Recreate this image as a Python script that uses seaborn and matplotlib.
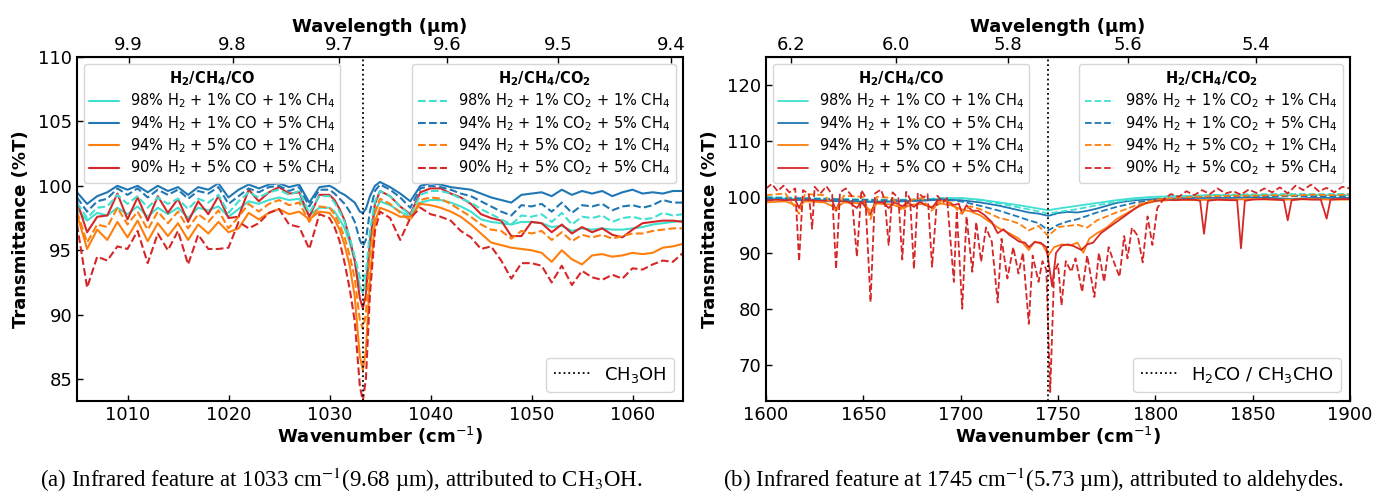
import numpy as np
import pandas as pd
import seaborn as sns
import matplotlib
matplotlib.use("Agg")
import matplotlib.pyplot as plt

sns.set_style("ticks")
plt.rcParams['font.family'] = ['DejaVu Sans']
plt.rcParams['xtick.direction'] = 'in'
plt.rcParams['ytick.direction'] = 'in'
plt.rcParams['axes.edgecolor'] = 'black'
plt.rcParams['text.color'] = 'black'
plt.rcParams['axes.labelcolor'] = 'black'
plt.rcParams['xtick.color'] = 'black'
plt.rcParams['ytick.color'] = 'black'

# ---------------- Panel (a) data: 1005-1065 cm^-1 ----------------
xa = ([float(v) for v in range(1005, 1030)] +
      [1030, 1030.5, 1031, 1031.5, 1032, 1032.5, 1033, 1033.3, 1033.6, 1034, 1034.5] +
      [float(v) for v in range(1035, 1066)])

a_tq_co = [98.2, 97.3, 97.9, 97.7, 98.3, 97.8, 98.4, 97.6, 98.3, 97.8, 98.3, 97.5, 98.3, 98.1, 98.4, 97.6, 98.2, 98.8, 98.6, 98.9, 99.1, 98.9, 99.0, 97.7, 98.3,
           98.3, 98.0, 97.4, 96.7, 95.6, 94.2, 92.2, 91.7, 92.5, 95.8, 98.0,
           98.8, 98.5, 98.0, 97.6, 98.7, 98.9, 98.9, 98.7, 98.4, 98.0, 97.4, 97.2, 97.1, 97.0, 97.2, 97.2, 97.1, 96.8, 96.9, 96.5, 96.7, 96.6, 96.7, 96.6, 96.6, 96.7, 96.8, 97.0, 97.1, 97.2, 97.3]
a_bl_co = [99.5, 98.6, 99.2, 99.5, 100.0, 99.7, 100.0, 99.5, 100.0, 99.6, 99.9, 99.3, 99.9, 99.7, 100.2, 99.1, 99.7, 100.1, 99.8, 100.1, 100.2, 99.9, 100.1, 98.7, 99.9,
           100.0, 99.8, 99.5, 99.3, 99.0, 98.7, 98.0, 97.9, 98.2, 99.2, 100.0,
           100.3, 99.9, 99.4, 98.8, 100.0, 100.2, 100.1, 99.9, 99.8, 99.7, 99.4, 99.1, 98.9, 98.7, 99.3, 99.4, 99.5, 99.2, 99.7, 99.3, 99.6, 99.4, 99.6, 99.2, 99.5, 99.7, 99.4, 99.5, 99.4, 99.6, 99.6]
a_or_co = [97.8, 95.1, 96.6, 95.8, 97.2, 96.0, 97.3, 95.7, 97.1, 96.1, 97.1, 95.8, 97.0, 96.3, 97.2, 96.4, 96.7, 97.9, 97.4, 97.9, 98.2, 97.8, 98.0, 97.4, 98.0,
           97.9, 97.4, 96.6, 95.4, 93.8, 91.4, 86.8, 85.7, 87.2, 92.7, 97.2,
           98.3, 98.0, 97.6, 97.6, 98.6, 98.5, 98.3, 98.0, 97.6, 97.0, 96.3, 95.6, 95.4, 95.2, 95.1, 95.0, 94.8, 94.1, 95.0, 94.3, 93.9, 94.6, 94.7, 94.5, 94.6, 94.8, 94.7, 94.8, 95.2, 95.3, 95.5]
a_rd_co = [98.8, 96.4, 97.6, 97.7, 99.4, 97.4, 99.1, 97.3, 99.2, 97.9, 99.0, 97.2, 98.8, 97.8, 99.2, 97.5, 97.6, 99.7, 98.8, 99.5, 99.9, 99.4, 99.5, 97.6, 99.3,
           99.3, 98.9, 98.2, 97.3, 95.9, 94.2, 91.3, 90.5, 91.5, 95.6, 98.6,
           99.6, 99.2, 98.4, 97.8, 99.5, 99.8, 99.8, 99.4, 99.1, 98.6, 97.8, 97.5, 97.3, 96.1, 96.1, 97.2, 97.1, 96.4, 97.0, 96.3, 96.8, 96.4, 96.7, 96.2, 96.0, 96.6, 97.1, 97.2, 97.3, 97.3, 97.2]
a_tq_co2 = [98.7, 97.5, 98.3, 98.4, 99.3, 98.6, 99.2, 98.3, 99.1, 98.6, 99.0, 98.2, 99.0, 98.7, 99.3, 97.9, 98.8, 99.5, 99.1, 99.5, 99.7, 99.3, 99.6, 97.9, 99.2,
            99.2, 98.7, 98.0, 97.2, 96.0, 94.5, 92.9, 92.6, 93.2, 96.5, 98.8,
            99.6, 99.2, 98.4, 97.7, 99.3, 99.6, 99.6, 99.4, 99.0, 98.7, 98.2, 97.8, 97.4, 97.0, 97.7, 97.6, 97.8, 97.2, 97.9, 97.0, 97.6, 97.5, 97.7, 97.2, 97.5, 97.6, 97.4, 97.5, 97.9, 97.7, 97.8]
a_bl_co2 = [99.1, 98.0, 98.8, 99.0, 99.8, 99.3, 99.8, 99.1, 99.7, 99.3, 99.7, 99.0, 99.6, 99.4, 99.9, 98.6, 99.2, 99.8, 99.5, 99.9, 100.0, 99.6, 99.9, 98.4, 99.7,
            99.7, 99.4, 99.0, 98.6, 98.0, 97.2, 95.8, 95.3, 95.8, 98.0, 99.6,
            100.1, 99.7, 99.1, 98.3, 99.8, 100.0, 99.9, 99.7, 99.4, 99.2, 98.8, 98.4, 98.0, 97.7, 98.5, 98.4, 98.6, 98.0, 98.7, 97.9, 98.5, 98.4, 98.6, 98.1, 98.4, 98.5, 98.3, 98.5, 98.9, 98.7, 98.7]
a_or_co2 = [98.0, 95.6, 97.0, 96.8, 98.3, 97.0, 98.0, 96.6, 98.0, 97.1, 98.0, 96.7, 97.8, 97.2, 98.1, 96.7, 97.6, 98.6, 98.0, 98.6, 98.9, 98.5, 98.7, 97.2, 98.4,
            98.3, 97.8, 97.0, 96.0, 94.6, 92.8, 89.6, 88.9, 90.0, 94.6, 97.9,
            99.0, 98.6, 97.9, 97.3, 98.9, 99.1, 99.0, 98.6, 98.1, 97.6, 97.0, 96.6, 96.5, 95.9, 96.5, 96.3, 96.5, 95.8, 96.4, 95.7, 96.2, 96.0, 96.2, 95.9, 96.1, 96.3, 96.3, 96.5, 96.6, 96.7, 96.7]
a_rd_co2 = [97.0, 92.1, 94.5, 94.2, 95.3, 95.1, 96.5, 94.0, 96.3, 95.0, 96.5, 93.9, 96.2, 95.1, 95.1, 95.2, 97.2, 96.7, 97.1, 97.9, 98.2, 97.0, 96.8, 95.1, 97.8,
            97.5, 96.8, 95.7, 94.0, 92.0, 89.5, 84.5, 83.3, 85.0, 91.5, 96.5,
            98.0, 97.5, 95.8, 97.5, 98.3, 97.8, 97.6, 97.3, 96.5, 96.0, 95.1, 95.3, 94.2, 92.8, 94.0, 94.0, 93.8, 92.5, 93.8, 92.3, 93.4, 92.9, 92.7, 93.1, 92.8, 93.6, 93.5, 93.9, 94.2, 94.1, 94.8]

# ---------------- Panel (b) data: 1600-1900 cm^-1 ----------------
b_tq_co_x = [1600, 1610, 1620, 1630, 1640, 1650, 1660, 1670, 1680, 1690, 1700, 1710, 1720, 1730, 1740, 1745, 1750, 1760, 1770, 1780, 1790, 1800, 1810, 1820, 1830, 1840, 1850, 1860, 1870, 1880, 1890, 1900]
b_tq_co_y = [99.8, 99.7, 99.6, 99.4, 99.3, 99.2, 99.2, 99.3, 99.4, 99.7, 99.8, 99.5, 99.0, 98.5, 97.9, 97.6, 97.9, 98.4, 98.9, 99.4, 99.8, 100.0, 100.1, 100.2, 100.3, 100.3, 100.3, 100.3, 100.3, 100.3, 100.3, 100.3]

b_bl_co_x = [1600, 1610, 1620, 1630, 1640, 1650, 1660, 1670, 1680, 1690, 1700, 1710, 1720, 1730, 1735, 1740, 1745, 1750, 1755, 1760, 1765, 1770, 1775, 1780, 1785, 1790, 1800, 1810, 1820, 1830, 1840, 1850, 1860, 1870, 1880, 1890, 1900]
b_bl_co_y = [99.6, 99.5, 99.4, 99.3, 99.2, 99.1, 99.1, 99.2, 99.3, 99.5, 99.4, 99.0, 98.4, 97.6, 97.2, 97.0, 96.6, 97.1, 97.3, 97.2, 97.5, 97.9, 98.4, 98.9, 99.2, 99.4, 99.6, 99.7, 99.8, 99.8, 99.8, 99.9, 99.8, 99.6, 99.8, 99.8, 99.8]

b_or_co_x = [1600, 1610, 1617, 1620, 1630, 1636, 1640, 1650, 1653.7, 1657, 1665, 1670, 1675, 1680, 1685, 1690, 1695, 1700, 1705, 1710, 1715, 1720, 1725, 1730, 1735, 1738, 1742, 1745, 1748, 1752, 1756, 1760, 1763, 1766, 1770, 1775, 1780, 1785, 1790, 1795, 1800, 1810, 1820, 1830, 1840, 1850, 1860, 1870, 1880, 1890, 1900]
b_or_co_y = [99.0, 99.2, 98.3, 99.2, 99.0, 98.0, 99.0, 98.8, 97.5, 98.8, 98.6, 98.0, 98.6, 98.7, 98.2, 98.8, 98.5, 97.8, 97.4, 96.7, 95.5, 94.3, 93.5, 92.5, 90.5, 92.0, 91.5, 89.5, 91.0, 91.5, 91.3, 91.8, 90.0, 92.5, 93.5, 94.5, 96.0, 97.0, 98.0, 98.8, 99.2, 99.5, 99.4, 99.5, 99.5, 99.6, 99.5, 99.5, 99.6, 99.5, 99.5]

b_rd_co_x = [1600, 1605, 1610, 1615, 1617, 1619, 1625, 1630, 1634, 1636, 1638, 1642, 1646.7, 1649, 1653.7, 1656, 1660, 1663, 1666, 1670, 1673, 1676, 1679, 1685.3, 1688, 1692, 1696.5, 1699, 1700.8, 1703, 1706, 1709, 1712, 1716, 1719, 1722, 1725, 1728, 1730, 1733, 1735, 1738, 1741, 1744, 1747, 1749, 1752, 1755, 1758, 1762, 1765, 1768, 1772, 1776, 1780, 1784, 1788, 1792, 1796, 1800, 1805, 1810, 1815, 1820, 1823, 1825, 1827, 1832, 1838, 1842, 1844, 1846, 1850, 1856, 1862, 1866, 1868, 1870, 1875, 1880, 1885, 1888, 1890, 1895, 1900]
b_rd_co_y = [99.3, 99.5, 99.4, 99.5, 98.0, 99.5, 99.4, 99.3, 99.4, 97.5, 99.3, 99.2, 98.0, 99.2, 96.8, 99.0, 99.0, 98.0, 99.0, 98.3, 99.0, 98.2, 99.1, 98.0, 99.3, 99.4, 98.5, 98.8, 97.0, 98.5, 97.5, 97.5, 96.8, 95.5, 93.5, 94.2, 93.2, 92.5, 92.0, 91.8, 91.0, 91.9, 91.8, 91.0, 84.0, 90.0, 91.3, 91.5, 91.2, 90.5, 91.5, 91.8, 93.5, 94.5, 95.5, 96.5, 97.5, 98.5, 99.0, 99.3, 99.5, 99.4, 99.5, 99.5, 99.3, 93.4, 99.3, 99.5, 99.4, 99.4, 90.8, 99.3, 99.5, 99.6, 99.5, 99.4, 95.8, 99.4, 99.6, 99.5, 99.5, 96.1, 99.5, 99.6, 99.6]

b_tq_co2_x = [1600, 1620, 1640, 1660, 1680, 1690, 1700, 1710, 1720, 1730, 1740, 1745, 1750, 1760, 1770, 1780, 1790, 1800, 1820, 1840, 1860, 1880, 1900]
b_tq_co2_y = [100.0, 99.8, 99.6, 99.5, 99.5, 99.8, 99.8, 99.4, 98.8, 98.1, 97.4, 97.0, 97.3, 97.8, 98.5, 99.1, 99.6, 100.0, 100.2, 100.4, 100.5, 100.5, 100.5]

b_bl_co2_x = [1600, 1620, 1640, 1660, 1680, 1690, 1700, 1710, 1720, 1730, 1735, 1740, 1745, 1750, 1755, 1760, 1765, 1770, 1780, 1790, 1800, 1820, 1840, 1860, 1880, 1900]
b_bl_co2_y = [99.8, 99.7, 99.5, 99.4, 99.4, 99.6, 99.2, 98.4, 97.5, 96.4, 95.8, 95.3, 94.0, 95.0, 95.6, 96.0, 96.6, 97.2, 98.2, 99.0, 99.5, 99.9, 100.0, 100.1, 100.1, 100.1]

b_or_co2_x = [1600, 1610, 1617, 1620, 1630, 1636, 1640, 1650, 1653.7, 1657, 1665, 1670, 1675, 1680, 1685, 1690, 1695, 1700, 1705, 1710, 1715, 1720, 1725, 1730, 1735, 1740, 1745, 1750, 1755, 1760, 1765, 1770, 1775, 1780, 1785, 1790, 1795, 1800, 1810, 1820, 1830, 1840, 1850, 1860, 1870, 1880, 1890, 1900]
b_or_co2_y = [100.3, 100.6, 97.0, 100.5, 100.3, 97.5, 100.2, 100.0, 96.0, 100.0, 99.8, 97.5, 99.5, 99.8, 97.5, 99.3, 99.0, 97.0, 98.3, 97.8, 97.0, 96.2, 95.8, 95.2, 94.0, 94.8, 93.0, 94.6, 94.8, 95.0, 94.5, 95.8, 96.5, 97.2, 97.8, 98.5, 99.0, 99.5, 99.8, 100.0, 100.1, 100.2, 100.2, 100.3, 100.2, 100.4, 100.3, 100.4]

b_rd_co2_x = [1600, 1603, 1606, 1609, 1612, 1615, 1617, 1619, 1622, 1623.7, 1625, 1628, 1631, 1634, 1636, 1638, 1641, 1644, 1646.7, 1649, 1651, 1653.7, 1656, 1659, 1661, 1663, 1665, 1668, 1670, 1672, 1674, 1676, 1678, 1681, 1683, 1685.3, 1688, 1691, 1693, 1696.5, 1698, 1700.8, 1703, 1706, 1708, 1710.5, 1713, 1716, 1719, 1721, 1724, 1727, 1729.7, 1732, 1735, 1737, 1740, 1742, 1744, 1746, 1748, 1750, 1751.8, 1754, 1756.8, 1759, 1762.4, 1765, 1768.7, 1771, 1773.7, 1776, 1778, 1781.6, 1784, 1785.7, 1788, 1791, 1793.5, 1796, 1798.5, 1801, 1804, 1808, 1812, 1816, 1820, 1824, 1828, 1832, 1836, 1840, 1844, 1848, 1852, 1856, 1860, 1864, 1868, 1872, 1876, 1880, 1884, 1888, 1892, 1896, 1900]
b_rd_co2_y = [101.5, 102.3, 101.0, 102.0, 100.8, 101.5, 88.5, 101.2, 100.5, 94.3, 101.8, 100.6, 101.9, 100.4, 87.1, 100.8, 101.5, 100.2, 89.3, 101.2, 100.0, 81.2, 100.6, 101.3, 99.5, 91.4, 100.8, 99.8, 88.8, 100.9, 99.6, 87.1, 100.7, 99.9, 100.5, 87.5, 100.2, 99.0, 99.8, 84.8, 97.5, 80.0, 96.5, 86.6, 95.5, 88.4, 94.5, 92.0, 81.1, 92.5, 85.4, 91.0, 86.3, 90.0, 77.3, 89.5, 84.8, 88.5, 87.0, 65.1, 86.5, 88.0, 80.6, 88.5, 86.6, 89.0, 83.0, 89.5, 82.1, 90.0, 84.8, 91.0, 89.0, 85.7, 93.0, 89.0, 94.5, 93.0, 88.3, 96.5, 91.4, 98.0, 99.5, 100.5, 100.0, 101.0, 100.3, 101.2, 100.5, 101.5, 100.6, 101.0, 100.4, 101.3, 100.7, 101.5, 100.8, 101.7, 100.6, 102.0, 101.2, 102.2, 101.0, 101.6, 100.8, 101.8, 101.5]

mix_labels_co = ["98% H$_2$ + 1% CO + 1% CH$_4$", "94% H$_2$ + 1% CO + 5% CH$_4$",
                 "94% H$_2$ + 5% CO + 1% CH$_4$", "90% H$_2$ + 5% CO + 5% CH$_4$"]
mix_labels_co2 = ["98% H$_2$ + 1% CO$_2$ + 1% CH$_4$", "94% H$_2$ + 1% CO$_2$ + 5% CH$_4$",
                  "94% H$_2$ + 5% CO$_2$ + 1% CH$_4$", "90% H$_2$ + 5% CO$_2$ + 5% CH$_4$"]
colors = ["#40e0d0", "#1f77b4", "#ff7f0e", "#d62728"]

a_series_co = [a_tq_co, a_bl_co, a_or_co, a_rd_co]
a_series_co2 = [a_tq_co2, a_bl_co2, a_or_co2, a_rd_co2]
b_series_co = [(b_tq_co_x, b_tq_co_y), (b_bl_co_x, b_bl_co_y), (b_or_co_x, b_or_co_y), (b_rd_co_x, b_rd_co_y)]
b_series_co2 = [(b_tq_co2_x, b_tq_co2_y), (b_bl_co2_x, b_bl_co2_y), (b_or_co2_x, b_or_co2_y), (b_rd_co2_x, b_rd_co2_y)]

W, H = 1378, 495
fig = plt.figure(figsize=(W / 100, H / 100), dpi=100)
axA = fig.add_axes([77 / W, (H - 401) / H, 606 / W, 344 / H])
axB = fig.add_axes([766 / W, (H - 401) / H, 584 / W, 344 / H])

LEG_FS = 10.5
TICK_FS = 13
LAB_FS = 13


def draw(ax, co_series, co2_series, vline, vlabel, xlim, ylim, yticks, xticks, topticks, lw):
    for (s, c, lab) in zip(co_series, colors, mix_labels_co):
        x, y = s
        sns.lineplot(x=x, y=y, ax=ax, color=c, linestyle='-', linewidth=lw, label=lab,
                     estimator=None, sort=True)
    for (s, c, lab) in zip(co2_series, colors, mix_labels_co2):
        x, y = s
        sns.lineplot(x=x, y=y, ax=ax, color=c, linestyle='--', linewidth=lw, label=lab,
                     estimator=None, sort=True)
    vl = ax.axvline(vline, color='black', linestyle=':', linewidth=1.3)
    handles, labels = ax.get_legend_handles_labels()
    ax.set_xlim(*xlim)
    ax.set_ylim(*ylim)
    ax.set_yticks(yticks)
    ax.set_xticks(xticks)
    ax.tick_params(axis='both', direction='in', labelsize=TICK_FS, length=4, width=1,
                   colors='black')
    for sp in ax.spines.values():
        sp.set_linewidth(1.5)
        sp.set_color('black')
    ax.set_xlabel("Wavenumber (cm$^{-1}$)", fontsize=LAB_FS, fontweight='bold', labelpad=1)
    ax.set_ylabel("Transmittance (%T)", fontsize=LAB_FS, fontweight='bold', labelpad=6)

    l1 = ax.legend(handles[:4], labels[:4], loc='upper left', fontsize=LEG_FS,
                   title=r"$\mathbf{H_2/CH_4/CO}$", title_fontsize=LEG_FS,
                   labelspacing=0.25, handlelength=2.0, borderpad=0.35)
    ax.add_artist(l1)
    l2 = ax.legend(handles[4:8], labels[4:8], loc='upper right', fontsize=LEG_FS,
                   title=r"$\mathbf{H_2/CH_4/CO_2}$", title_fontsize=LEG_FS,
                   labelspacing=0.25, handlelength=2.0, borderpad=0.35)
    ax.add_artist(l2)
    ax.legend([vl], [vlabel], loc='lower right', fontsize=TICK_FS, handlelength=2.0)

    sec = ax.secondary_xaxis('top', functions=(lambda v: 1e4 / np.where(v == 0, 1e-9, v),
                                                 lambda v: 1e4 / np.where(v == 0, 1e-9, v)))
    sec.set_xticks(topticks)
    sec.tick_params(axis='x', direction='in', labelsize=TICK_FS, length=4, width=1, pad=2,
                    colors='black')
    sec.set_xlabel("Wavelength (µm)", fontsize=LAB_FS, fontweight='bold', labelpad=3)


draw(axA, [(xa, s) for s in a_series_co], [(xa, s) for s in a_series_co2],
     1033.3, "CH$_3$OH", (1005, 1065), (83.3, 110), [85, 90, 95, 100, 105, 110],
     [1010, 1020, 1030, 1040, 1050, 1060], [9.9, 9.8, 9.7, 9.6, 9.5, 9.4], 1.5)
draw(axB, b_series_co, b_series_co2,
     1745, "H$_2$CO / CH$_3$CHO", (1600, 1900), (63.5, 125), [70, 80, 90, 100, 110, 120],
     [1600, 1650, 1700, 1750, 1800, 1850, 1900], [6.2, 6.0, 5.8, 5.6, 5.4], 1.3)

fig.text(341 / W, (H - 480) / H,
         "(a) Infrared feature at 1033 cm$^{-1}$(9.68 µm), attributed to CH$_3$OH.",
         ha='center', va='center', fontsize=16.5, family='Liberation Serif', math_fontfamily='stix')
fig.text(1033 / W, (H - 480) / H,
         "(b) Infrared feature at 1745 cm$^{-1}$(5.73 µm), attributed to aldehydes.",
         ha='center', va='center', fontsize=16.5, family='Liberation Serif', math_fontfamily='stix')

fig.savefig("out.png", dpi=100)
